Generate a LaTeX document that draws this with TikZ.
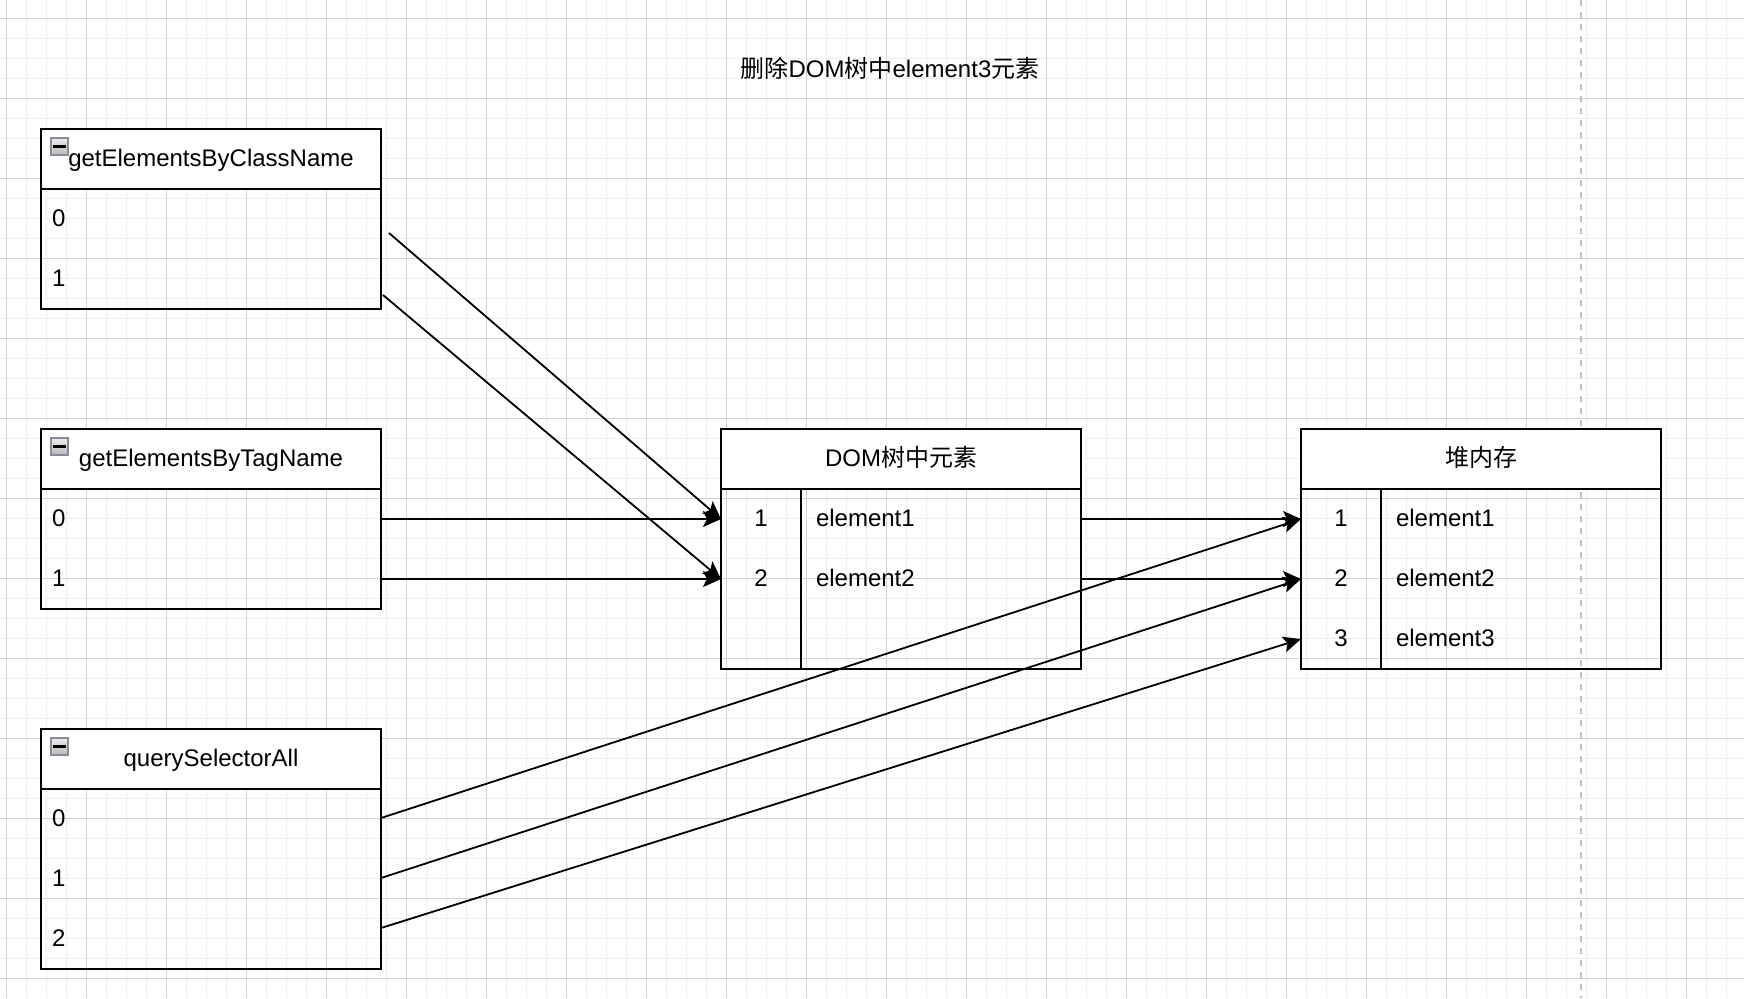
\documentclass[tikz,border=0pt]{standalone}
\usepackage{fontspec}
\setmainfont{Liberation Sans}
\newfontfamily\cjk{Noto Sans CJK SC}
\usetikzlibrary{positioning,arrows.meta}
\definecolor{gridminor}{HTML}{EEEEEE}
\definecolor{gridmajor}{HTML}{D2D2D2}
\definecolor{pagedash}{HTML}{C0C0C0}
\definecolor{iconedge}{HTML}{8A8A9A}
\begin{document}
\begin{tikzpicture}[x=0.5pt, y=-0.5pt, line width=0.9pt,
  every node/.style={font=\fontsize{12}{14}\selectfont, inner sep=0pt, outer sep=0pt, text height=10.2pt, text depth=2.5pt},
  box line/.style={draw=black, line width=1.3pt},
  head node/.style={box line, fill=white, minimum width=170pt, minimum height=30pt, anchor=north west},
  row node/.style={minimum width=170pt, minimum height=30pt, text width=159pt, inner xsep=5.5pt, align=left},
  idx node/.style={minimum width=40pt, minimum height=30pt},
  val node/.style={minimum width=140pt, minimum height=30pt, text width=125pt, inner xsep=7.5pt, align=left},
  fold icon/.style={draw=iconedge, line width=0.6pt, top color=gray!15, bottom color=gray!55, minimum size=8.5pt, text height=0pt, text depth=0pt,
    path picture={\draw[black, line width=1.4pt] ([xshift=1.2pt]path picture bounding box.west) -- ([xshift=-1.2pt]path picture bounding box.east);}}]
\useasboundingbox (0,0) rectangle (1744,998);
\fill[white] (0,0) rectangle (1744,998);
% grid
\foreach \gx in {6.7,26.7,...,1744} \draw[gridminor, line width=0.5pt] (\gx,0) -- (\gx,998);
\foreach \gy in {18.3,38.3,...,998} \draw[gridminor, line width=0.5pt] (0,\gy) -- (1744,\gy);
\foreach \gx in {6.7,86.7,...,1744} \draw[gridmajor, line width=0.5pt] (\gx,0) -- (\gx,998);
\foreach \gy in {18.3,98.3,...,998} \draw[gridmajor, line width=0.5pt] (0,\gy) -- (1744,\gy);
\draw[pagedash, line width=1pt, dash pattern=on 3pt off 3pt] (1581,0) -- (1581,998);

\node (title) at (890,69.6) {{\cjk 删除}DOM{\cjk 树中}element3{\cjk 元素}};

% getElementsByClassName
\node[head node] (cls) at (41,129) {getElementsByClassName};
\node[row node, below=0pt of cls] (cls0) {0};
\node[row node, below=0pt of cls0] (cls1) {1};
\draw[box line] (cls.south west) rectangle (cls1.south east);
\node[fold icon] (clsicon) at ([xshift=9.25pt,yshift=-8.75pt]cls.north west) {};

% getElementsByTagName
\node[head node] (tag) at (41,429) {getElementsByTagName};
\node[row node, below=0pt of tag] (tag0) {0};
\node[row node, below=0pt of tag0] (tag1) {1};
\draw[box line] (tag.south west) rectangle (tag1.south east);
\node[fold icon] (tagicon) at ([xshift=9.25pt,yshift=-8.75pt]tag.north west) {};

% querySelectorAll
\node[head node] (qsa) at (41,729) {querySelectorAll};
\node[row node, below=0pt of qsa] (qsa0) {0};
\node[row node, below=0pt of qsa0] (qsa1) {1};
\node[row node, below=0pt of qsa1] (qsa2) {2};
\draw[box line] (qsa.south west) rectangle (qsa2.south east);
\node[fold icon] (qsaicon) at ([xshift=9.25pt,yshift=-8.75pt]qsa.north west) {};

% DOM
\node[head node, minimum width=180pt] (dom) at (721,429) {DOM{\cjk 树中元素}};
\node[idx node, anchor=north west] (dom1) at (dom.south west) {1};
\node[val node, right=0pt of dom1] (dom1v) {element1};
\node[idx node, below=0pt of dom1] (dom2) {2};
\node[val node, right=0pt of dom2] (dom2v) {element2};
\node[idx node, below=0pt of dom2] (dom3) {};
\node[val node, right=0pt of dom3] (dom3v) {};
\draw[box line] (dom.south west) rectangle (dom3v.south east);
\draw[box line] (dom1.north east) -- (dom3.south east);

% heap
\node[head node, minimum width=180pt] (heap) at (1301,429) {{\cjk 堆内存}};
\node[idx node, anchor=north west] (heap1) at (heap.south west) {1};
\node[val node, right=0pt of heap1] (heap1v) {element1};
\node[idx node, below=0pt of heap1] (heap2) {2};
\node[val node, right=0pt of heap2] (heap2v) {element2};
\node[idx node, below=0pt of heap2] (heap3) {3};
\node[val node, right=0pt of heap3] (heap3v) {element3};
\draw[box line] (heap.south west) rectangle (heap3v.south east);
\draw[box line] (heap1.north east) -- (heap3.south east);

\begin{scope}[every edge/.style={draw=black, line width=0.9pt, -{Stealth[length=9pt,width=8pt,inset=2pt]}}]
\draw ([xshift=4pt,yshift=-7pt]cls0.east) edge (dom1.west);
\draw ([xshift=1pt,yshift=-8pt]cls1.east) edge (dom2.west);
\draw (tag0.east) edge (dom1.west);
\draw (tag1.east) edge (dom2.west);
\draw (dom1v.east) edge (heap1.west);
\draw (dom2v.east) edge (heap2.west);
\draw ([yshift=0.5pt]qsa0.east) edge (heap1.west);
\draw ([yshift=0.5pt]qsa1.east) edge (heap2.west);
\draw ([yshift=5.5pt]qsa2.east) edge (heap3.west);
\end{scope}
\end{tikzpicture}
\end{document}
